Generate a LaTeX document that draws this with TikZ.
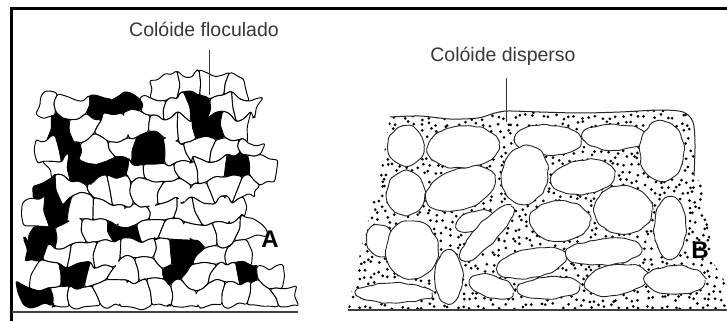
\documentclass[tikz,border=0pt]{standalone}
\usepackage{fontspec}
\setmainfont{Liberation Sans}
\usetikzlibrary{calc,decorations.pathmorphing}
\newcommand\flcell[3]{%
  \pgfmathtruncatemacro\ca{2*#2+mod(#1,2)}%
  \pgfmathtruncatemacro\cb{\ca+1}%
  \pgfmathtruncatemacro\cc{\ca+2}%
  \pgfmathtruncatemacro\jn{#1+1}%
  \filldraw[cellst, fill=#3] (v-\ca-#1) -- (h-\ca-#1) -- (v-\cb-#1) -- (h-\cb-#1) -- (v-\cc-#1) -- (w-\cc-#1)
     -- (v-\cc-\jn) -- (h-\cb-\jn) -- (v-\cb-\jn) -- (h-\ca-\jn) -- (v-\ca-\jn) -- (w-\ca-#1) -- cycle;}
\begin{document}
\begin{tikzpicture}[x=1pt,y=-1pt,
  cellst/.style={draw=black, line width=0.95pt, rounded corners=2.5pt, line join=round},
  erase/.style={draw=white, line width=2.4pt, shorten >=3pt, shorten <=3pt},
  blobst/.style={draw=black!85, fill=white, line width=0.9pt, decorate,
     decoration={random steps, segment length=5pt, amplitude=1.2pt}, rounded corners=1.8pt},
  lab/.style={font=\fontsize{19.5}{22}\selectfont, text=black!78, inner sep=0pt},
  letter/.style={font=\fontsize{24}{26}\selectfont\bfseries, inner sep=0pt},
  leader/.style={draw=black!80, line width=1pt},
  ground/.style={draw=black!75, line width=1.6pt},
  outl/.style={draw=black!85, line width=1pt}]
\useasboundingbox (0,0) rectangle (727,321);
\fill[white] (0,0) rectangle (727,321);
\draw[line width=3pt] (11,321) -- (11,8.5) -- (727,8.5);
% ---------- left panel: flocculated colloid ----------
\pgfmathsetseed{11}
\foreach \k in {0,...,11}{\foreach \m in {0,...,22}{
  \pgfmathsetmacro\jf{ifthenelse(\k==11,1.5,6.5)}
  \pgfmathsetmacro\xx{22+12.6*\m+6.5*rand}
  \pgfmathsetmacro\yy{75+21.0*\k+\jf*rand}
  \coordinate (v-\m-\k) at (\xx,\yy);}}
\foreach \k in {0,...,11}{\foreach \m in {0,...,21}{
  \pgfmathtruncatemacro\mn{\m+1}
  \pgfmathsetmacro\dd{4*rand}
  \coordinate (h-\m-\k) at ($(v-\m-\k)!0.5!(v-\mn-\k)+(0,\dd)$);}}
\foreach \j in {0,...,10}{\foreach \a in {0,...,22}{
  \pgfmathtruncatemacro\jn{\j+1}
  \pgfmathsetmacro\dd{4*rand}
  \coordinate (w-\a-\j) at ($(v-\a-\j)!0.5!(v-\a-\jn)+(\dd,0)$);}}
\foreach \b in {1-2,1-3,1-6,2-1,2-7,3-1,3-4,4-2,4-3,4-8,5-0,6-1,7-0,7-3,8-0,8-6,9-1,9-5,9-8,10-0}{%
  \expandafter\gdef\csname blk-\b\endcsname{}}
\foreach \j/\lo/\hi in {0/5/8,1/0/8,2/1/8,3/0/8,4/1/9,5/0/8,6/0/8,7/0/8,8/0/8,9/0/9,10/0/10}{
  \foreach \i in {\lo,...,\hi}{
    \ifcsname blk-\j-\i\endcsname\def\cf{black}\else\def\cf{white}\fi
    \flcell{\j}{\i}{\cf}}}
% merge a few white cells into larger ones
\foreach \a/\j in {8/6,13/5,13/7,8/2,8/10,14/10,16/6}{
  \pgfmathtruncatemacro\jn{\j+1}
  \draw[erase] (v-\a-\j) -- (w-\a-\j) -- (v-\a-\jn);}
\foreach \m/\k in {10/6,12/6,7/9,11/3,4/7}{
  \pgfmathtruncatemacro\mn{\m+1}
  \draw[erase] (v-\m-\k) -- (h-\m-\k) -- (v-\mn-\k);}
\draw[ground] (12,312) -- (298,312);
\node[lab, anchor=base] (labA) at (204,37) {Colóide floculado};
\coordinate (lA1) at (209,50);
\coordinate (lA2) at (209,95);
\draw[leader] (lA1) -- (lA2);
\node[letter] (tA) at (270,239) {A};
% ---------- right panel: dispersed colloid ----------
\begin{scope}
\clip plot[smooth] coordinates {(390,117) (420,116) (450,119) (478,118) (495,113) (508,111) (540,112) (580,113) (620,112) (660,110) (683,112) (693,122) (695,145) (694,176)}
  -- (703,185) -- (709,230) -- (713,262) -- (727,285) -- (727,309) -- (348,309) -- (353,285) -- (362,245) -- (372,205) -- (383,160) -- cycle;
\pgfmathsetseed{5}
\foreach \cx in {0,...,55}{\foreach \cy in {0,...,29}{
  \pgfmathsetmacro\px{345+7*\cx+3*rand}
  \pgfmathsetmacro\py{110+7*\cy+3*rand}
  \fill (\px,\py) circle (1.5);}}
\end{scope}
\draw[outl] plot[smooth] coordinates {(390,117) (420,116) (450,119) (478,118) (495,113) (508,111) (540,112) (580,113) (620,112) (660,110) (683,112) (693,122) (695,145) (694,176)};
\pgfmathsetseed{3}
\foreach \cx/\cy/\rx/\ry/\rt in {
  406/146/18/20/0, 463/147/36/21/5, 548/140/33/15/0, 614/137/31/13/0, 662/151/22/30/0,
  406/193/19/22/0, 461/189/36/20/20, 525/175/23/29/-10, 583/177/32/17/8, 623/210/29/24/0,
  670/228/16/31/0, 474/221/18/9/20, 560/221/30/20/0, 380/241/13/16/10, 412/250/26/29/0,
  487/233/36/11/48, 532/263/35/14/12, 604/252/38/13/5, 449/277/14/26/0, 394/293/38/10/0,
  492/287/22/11/-15, 549/288/31/11/5, 616/280/31/15/10, 675/280/30/14/0}{
  \path[blobst, rotate around={\rt:(\cx,\cy)}] (\cx,\cy) ellipse [x radius=\rx, y radius=\ry];}
\draw[ground] (348,310) -- (727,310);
\node[lab, anchor=base] (labB) at (503,61) {Colóide disperso};
\coordinate (lB1) at (506,78);
\coordinate (lB2) at (506,122);
\draw[leader] (lB1) -- (lB2);
\node[letter] (tB) at (700,250) {B};
\end{tikzpicture}
\end{document}
